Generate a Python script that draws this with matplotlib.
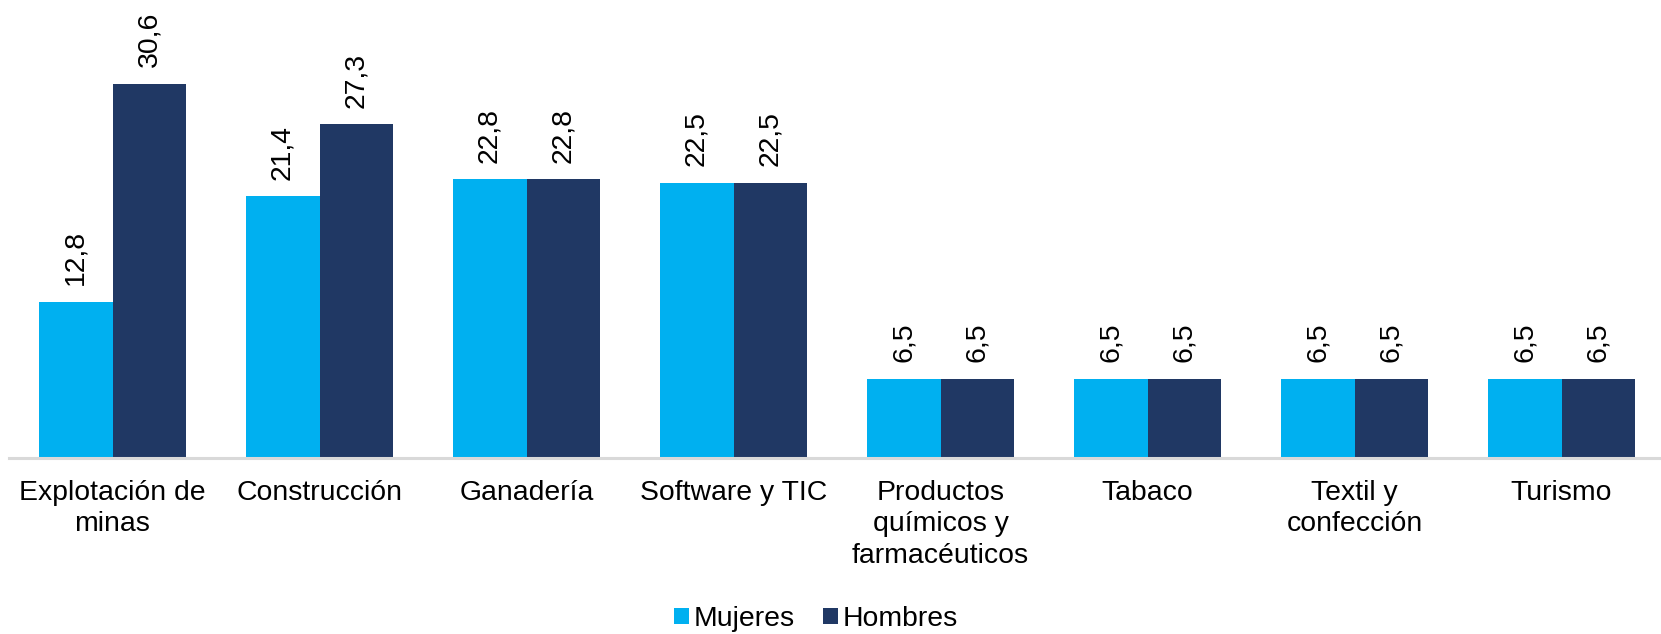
import matplotlib
matplotlib.use("Agg")
import matplotlib.pyplot as plt
import numpy as np

categories = ["Explotación de\nminas", "Construcción", "Ganadería", "Software y TIC",
              "Productos\nquímicos y\nfarmacéuticos", "Tabaco", "Textil y\nconfección", "Turismo"]
mujeres = [12.8, 21.4, 22.8, 22.5, 6.5, 6.5, 6.5, 6.5]
hombres = [30.6, 27.3, 22.8, 22.5, 6.5, 6.5, 6.5, 6.5]
series_names = ["Mujeres", "Hombres"]

COL_MUJ = "#00B0F0"
COL_HOM = "#203864"
FS = 20.4

plt.rcParams["font.family"] = ["Liberation Sans", "DejaVu Sans"]

W, H = 1661, 634
fig = plt.figure(figsize=(W / 100, H / 100), dpi=100)
# axes: baseline at y=458 px, x=-0.5 at 9 px, one category = 207 px
ax = fig.add_axes([9 / W, 1 - 458 / H, 207 * 8 / W, 458 / H])

x = np.arange(len(categories))
bw = 0.357
b1 = ax.bar(x - bw / 2, mujeres, bw, color=COL_MUJ, label=series_names[0])
b2 = ax.bar(x + bw / 2, hombres, bw, color=COL_HOM, label=series_names[1])

for bars in (b1, b2):
    for rect in bars:
        v = rect.get_height()
        ax.annotate(f"{v:.1f}".replace(".", ","),
                    (rect.get_x() + rect.get_width() / 2, v),
                    xytext=(0, 12), textcoords="offset points",
                    rotation=90, ha="center", va="bottom", fontsize=FS, color="#000000")

ax.set_xlim(-0.5, 7.5)
ax.set_ylim(0, 37.48)
ax.set_xticks(x)
ax.set_xticklabels(categories, fontsize=FS, linespacing=1.26)
ax.tick_params(axis="x", length=0, pad=16)
ax.set_yticks([])
for side in ("top", "right", "left"):
    ax.spines[side].set_visible(False)
ax.spines["bottom"].set_color("#D9D9D9")
ax.spines["bottom"].set_linewidth(2.2)

fig.legend(handles=[b1, b2], labels=series_names, loc="center",
           bbox_to_anchor=(816 / W, 1 - 619 / H), ncol=2, frameon=False,
           fontsize=FS, handlelength=0.53, handleheight=0.53, handletextpad=0.15,
           columnspacing=1.0, borderpad=0)

fig.savefig("out.png", dpi=100, facecolor="white")
